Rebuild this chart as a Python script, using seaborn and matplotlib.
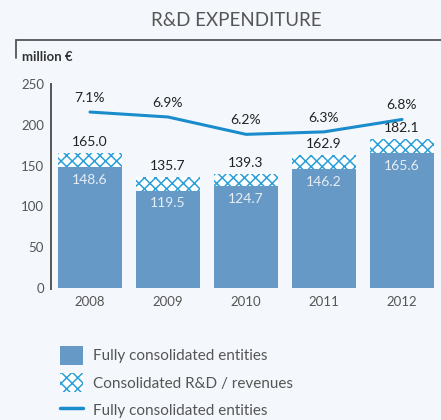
import numpy as np
import matplotlib
matplotlib.use("Agg")
import matplotlib.pyplot as plt
from matplotlib.lines import Line2D
from matplotlib.patches import Patch
import seaborn as sns

# data
years = ["2008", "2009", "2010", "2011", "2012"]
fully = [148.6, 119.5, 124.7, 146.2, 165.6]
total = [165.0, 135.7, 139.3, 162.9, 182.1]
pct = [7.1, 6.9, 6.2, 6.3, 6.8]

bg = "#f4f8fc"
bar_col = "#6699c5"
hatch_col = "#2a9fd9"
line_col = "#1b8ccb"
txt = "#555555"

sns.set_style("white")
plt.rcParams["font.family"] = ["Lato", "DejaVu Sans"]
plt.rcParams["hatch.linewidth"] = 1.1

fig = plt.figure(figsize=(4.41, 4.20), dpi=100, facecolor=bg)
ax = fig.add_axes([0.1156, 0.314, 0.8844, 0.486])
ax.set_facecolor(bg)

# hatched total bars, then fully consolidated bars over them
sns.barplot(x=years, y=total, color="white", edgecolor=hatch_col, linewidth=0,
            hatch="xxx", width=0.81, saturation=1, ax=ax)
sns.barplot(x=years, y=fully, color=bar_col, linewidth=0, width=0.81,
            saturation=1, ax=ax)

ax.set_ylim(0, 250)
ax.set_xlim(-0.5, 4.5)
ax.set_yticks(range(0, 251, 50))
ax.tick_params(axis="both", length=0, labelsize=9.5, colors=txt, pad=5)
ax.tick_params(axis="x", pad=6)
for s in ["top", "right", "bottom"]:
    ax.spines[s].set_visible(False)
ax.spines["left"].set_color(txt)
ax.spines["left"].set_linewidth(1.4)
ax.spines["left"].set_bounds(-1.5, 250)

for i in range(len(years)):
    ax.annotate(f"{total[i]:.1f}", (i, total[i]), xytext=(0, 4), textcoords="offset points",
                ha="center", va="bottom", fontsize=10, color="#222222")
    ax.annotate(f"{fully[i]:.1f}", (i, fully[i]), xytext=(0, -5), textcoords="offset points",
                ha="center", va="top", fontsize=10, color="#e6eef6")

# ratio line on a hidden second axis
ax2 = ax.twinx()
ax2.set_ylim(0, 8.23)
sns.lineplot(x=np.arange(len(years)), y=pct, color=line_col, linewidth=2.2, ax=ax2)
ax2.axis("off")
ax2.set_xlim(-0.5, 4.5)
for i in range(len(years)):
    ax2.annotate(f"{pct[i]}%", (i, pct[i]), xytext=(0, 6), textcoords="offset points",
                 ha="center", va="bottom", fontsize=10, color="#222222")

# title and frame
fig.text(236/441, 1-21/420, "R&D EXPENDITURE", ha="center", va="center", fontsize=13.5, color=txt)
fig.add_artist(Line2D([16/441, 1], [1-40/420, 1-40/420], color=txt, lw=1.3))
fig.add_artist(Line2D([16/441, 16/441], [1-40/420, 1-58/420], color=txt, lw=1.3))
fig.text(22/441, 1-57/420, "million €", ha="left", va="center", fontsize=9.5,
         fontweight="bold", color="#333333")

handles = [Patch(facecolor=bar_col, edgecolor="none"),
           Patch(facecolor="white", edgecolor=hatch_col, hatch="xxx", linewidth=0),
           Line2D([], [], color=line_col, lw=2.5)]
labels = ["Fully consolidated entities", "Consolidated R&D / revenues", "Fully consolidated entities"]
leg = fig.legend(handles, labels, loc="upper left", bbox_to_anchor=(46/441, 1-332/420),
                 frameon=False, fontsize=11, labelcolor=txt, handlelength=1.55,
                 handleheight=1.55, handletextpad=0.6, labelspacing=0.55)

fig.savefig("out.png", dpi=100, facecolor=bg)
